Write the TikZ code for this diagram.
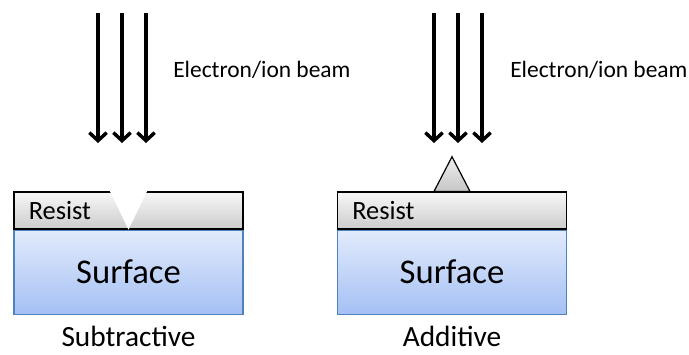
\documentclass[tikz,border=0pt]{standalone}
\usepackage{fontspec}
\setmainfont{Carlito}
\usetikzlibrary{positioning,arrows.meta,shadows}

\definecolor{surftop}{RGB}{226,235,252}
\definecolor{surfbot}{RGB}{164,192,244}
\definecolor{surfline}{RGB}{79,129,189}

\begin{document}
\begin{tikzpicture}[
    x=0.75pt, y=-0.75pt,
    resist/.style={draw=black, line width=0.9pt, top color=gray!6, bottom color=gray!40,
      minimum width=171.75pt, minimum height=27.75pt, inner sep=0pt,
      drop shadow={opacity=0.2, shadow xshift=0.6pt, shadow yshift=-0.8pt}},
    surface/.style={draw=surfline, line width=0.9pt, top color=surftop, bottom color=surfbot,
      minimum width=171.75pt, minimum height=63pt, inner sep=0pt,
      drop shadow={opacity=0.2, shadow xshift=0.6pt, shadow yshift=-0.8pt}},
    beam/.style={-{Straight Barb[length=6pt,width=13pt,line width=2.6pt]}, line width=3pt},
    label/.style={font=\fontsize{17.6}{20}\selectfont, anchor=west, inner sep=0pt},
    caption/.style={font=\fontsize{22}{24}\selectfont, inner sep=0pt}
  ]
    \useasboundingbox (0,0) rectangle (689,354);

    % subtractive
    \node[resist] (resL) at (128.5,210.5) {};
    \node[surface, below=0pt of resL] (surfL) {\fontsize{26}{30}\selectfont Surface};
    \node[font=\fontsize{19.8}{22}\selectfont, anchor=west] (txtL) at ([xshift=8pt]resL.west) {Resist};
    \fill[white] ([xshift=-14.6pt,yshift=1.5pt]resL.north) -- ([xshift=14.6pt,yshift=1.5pt]resL.north) -- (resL.south) -- cycle;
    \node[caption] (subL) at (128.5,336) {Subtractive};

    % additive
    \node[resist] (resR) at (452,210.5) {};
    \node[surface, below=0pt of resR] (surfR) {\fontsize{26}{30}\selectfont Surface};
    \node[font=\fontsize{19.8}{22}\selectfont, anchor=west] (txtR) at ([xshift=8pt]resR.west) {Resist};
    \draw[line width=0.9pt, top color=gray!12, bottom color=gray!45] ([xshift=-13.5pt]resR.north) -- ([yshift=26pt]resR.north) -- ([xshift=13.5pt]resR.north) -- cycle;
    \node[caption] (subR) at (452,336) {Additive};

    % beams
    \foreach \i/\x in {1/98, 2/122, 3/146, 4/434, 5/458, 6/482} {
      \coordinate (b\i) at (\x,13);
      \coordinate (e\i) at (\x,143);
      \draw[beam] (b\i) -- (e\i);
    }
    \node[label] (beamL) at (173,70) {Electron/ion beam};
    \node[label] (beamR) at (510,70) {Electron/ion beam};
  \end{tikzpicture}
\end{document}
